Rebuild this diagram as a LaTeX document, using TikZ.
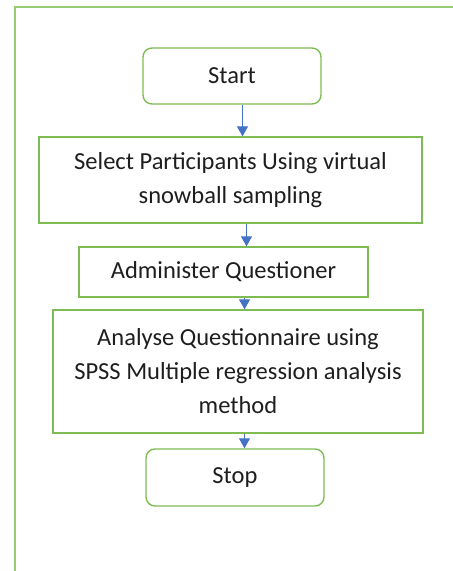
\documentclass[tikz,border=0pt]{standalone}
\usepackage{fontspec}
\setmainfont{Carlito}
\usetikzlibrary{arrows.meta}
\definecolor{boxgreen}{RGB}{125,188,85}
\definecolor{framegreen}{RGB}{150,205,115}
\definecolor{flowblue}{RGB}{68,114,196}
\definecolor{textgray}{RGB}{30,30,30}

\begin{document}
\begin{tikzpicture}[x=1pt, y=-1pt]
		\tikzstyle{flowbox}=[draw=boxgreen, line width=1.4pt, inner sep=0pt, align=center, text=textgray, font=\fontsize{24.5}{34}\selectfont]
		\tikzstyle{terminal}=[flowbox, rounded corners=9pt]
		\tikzstyle{flow}=[-{Triangle[width=11pt, length=10pt]}, flowblue, line width=1.2pt]
		\useasboundingbox (0, 0) rectangle (453, 571);
		% open frame round the chart
		\draw[framegreen, line width=1.6pt] (15, 571) -- (15, 7) -- (453, 7);
		\node[terminal, minimum width=178pt, minimum height=56pt] (start) at (232, 76) {Start};
		\node[flowbox, minimum width=383pt, minimum height=86pt] (select) at (230.5, 180) {Select Participants Using virtual\\snowball sampling};
		\node[flowbox, minimum width=289pt, minimum height=50pt] (admin) at (223.5, 272) {Administer Questioner};
		\node[flowbox, minimum width=370pt, minimum height=123pt] (analyse) at (238, 371.5) {Analyse Questionnaire using\\SPSS Multiple regression analysis\\method};
		\node[terminal, minimum width=178pt, minimum height=57pt] (stop) at (235, 477.5) {Stop};
		\draw[flow] ([xshift=10.5pt]start.south) -- ([xshift=10.5pt]start.south |- select.north);
		\draw[flow] ([xshift=16pt]select.south) -- ([xshift=16pt]select.south |- admin.north);
		\draw[flow] ([xshift=21pt]admin.south) -- ([xshift=21pt]admin.south |- analyse.north);
		\draw[flow] ([xshift=6.5pt]analyse.south) -- ([xshift=6.5pt]analyse.south |- stop.north);
\end{tikzpicture}
\end{document}
